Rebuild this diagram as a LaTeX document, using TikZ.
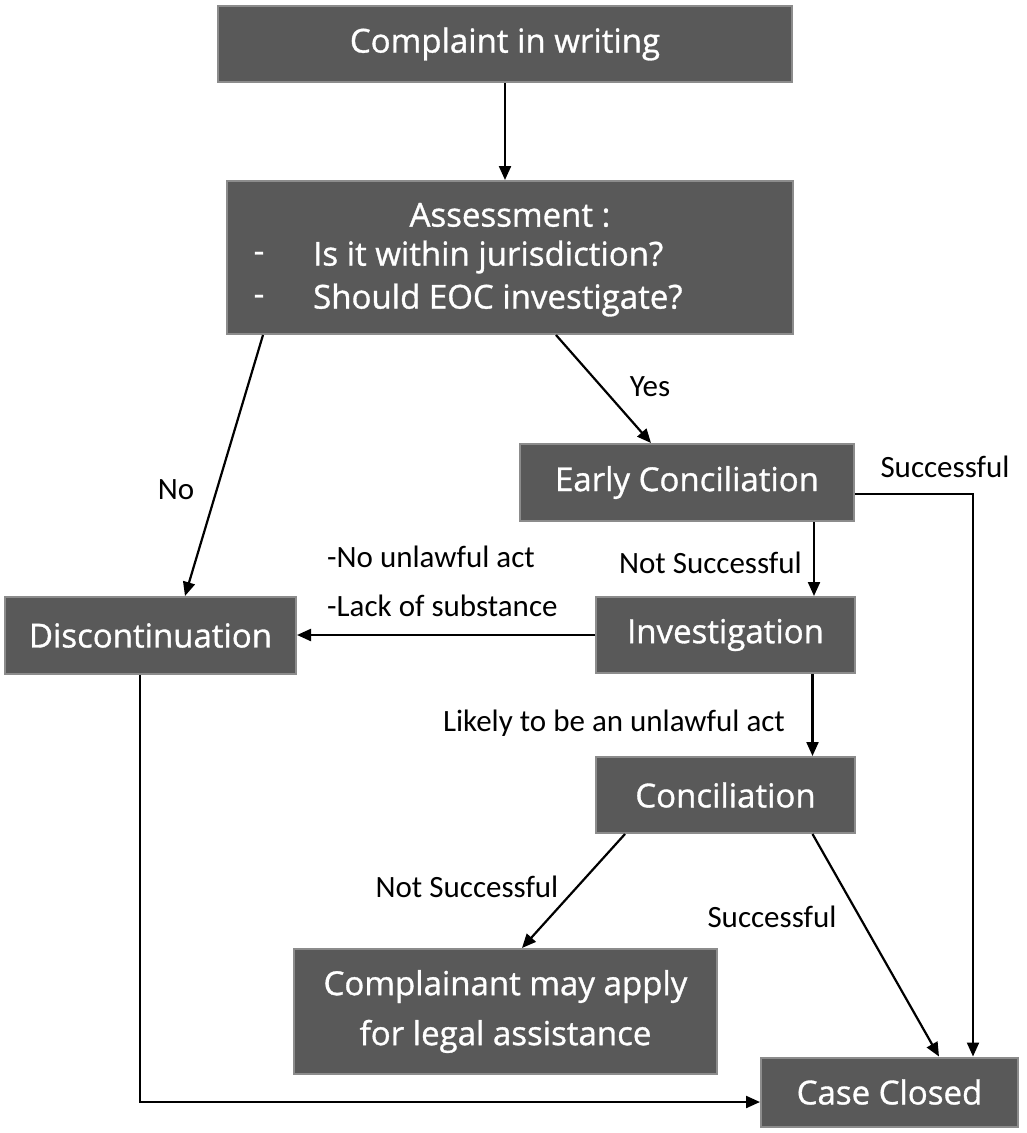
\documentclass[tikz,border=0pt]{standalone}
\usepackage{fontspec}
\setmainfont{Carlito}
\newfontfamily\boxfont{Open Sans}[FakeBold=1]
\usetikzlibrary{arrows.meta}
\definecolor{boxfill}{HTML}{595959}
\definecolor{boxline}{HTML}{8C8C8C}
\tikzset{
  box/.style={draw=boxline, line width=2pt, fill=boxfill, text=white, inner sep=0pt, align=center, font=\boxfont\fontsize{33}{50}\selectfont},
  boxtxt/.style={text=white, inner sep=0pt, font=\boxfont\fontsize{33}{50}\selectfont},
  arr/.style={line width=2.2pt, -{Triangle[length=14pt,width=12pt]}},
  lbl/.style={inner sep=0pt, font=\fontsize{31}{36}\selectfont}
}
\begin{document}
\begin{tikzpicture}[x=1pt,y=-1pt]
\useasboundingbox (0,0) rectangle (1026,1133);
% boxes
\node[box, minimum width=574pt, minimum height=76pt] (cw) at (505,44) {Complaint in writing};
\node[box, minimum width=566pt, minimum height=153pt] (as) at (510,257.5) {};
\node[boxtxt] (as1) at (510,215) {Assessment :};
\node[boxtxt] (as2) at (259,257) {-};
\node[boxtxt, anchor=west] (as3) at (313,257) {Is it within jurisdiction?};
\node[boxtxt] (as4) at (259,300) {-};
\node[boxtxt, anchor=west] (as5) at (313,300) {Should EOC investigate?};
\node[box, minimum width=334pt, minimum height=77pt] (ec) at (687,482.5) {Early Conciliation};
\node[box, minimum width=291pt, minimum height=77pt] (dis) at (150.5,635.5) {Discontinuation};
\node[box, minimum width=259pt, minimum height=76pt] (inv) at (725.5,635) {Investigation};
\node[box, minimum width=259pt, minimum height=76pt] (con) at (725.5,795) {Conciliation};
\node[box, minimum width=423pt, minimum height=125pt] (cla) at (505.5,1011.5) {Complainant may apply\\for legal assistance};
\node[box, minimum width=257pt, minimum height=69pt] (cc) at (889.5,1092) {Case Closed};
% connectors
\draw[arr] (cw.south) -- (cw.south |- as.north);
\draw[arr] ([xshift=46pt]as.south) -- ([xshift=-36pt]ec.north);
\draw[arr] ([xshift=-247pt]as.south) -- ([xshift=34.5pt]dis.north);
\draw[arr] ([xshift=127pt]ec.south) -- ([xshift=127pt]ec.south |- inv.north);
\draw[arr] ([yshift=-11.5pt]ec.east) -| ([xshift=83.5pt]cc.north);
\draw[arr] (inv.west) -- (inv.west -| dis.east);
\draw[arr] ([xshift=87pt]inv.south) -- ([xshift=87pt]inv.south |- con.north);
\draw[arr] ([xshift=-100.5pt]con.south) -- ([xshift=16.5pt]cla.north);
\draw[arr] ([xshift=87pt]con.south) -- ([xshift=49.5pt]cc.north);
\draw[arr] ([xshift=-10.5pt]dis.south) |- ([yshift=-10pt]cc.west);
% labels
\node[lbl] (lyes) at (650,387) {Yes};
\node[lbl] (lsucc1) at (945,467) {Successful};
\node[lbl] (lno) at (176,490) {No};
\node[lbl, anchor=west] (lnu) at (327,557) {-No unlawful act};
\node[lbl, anchor=west] (lls) at (327,606) {-Lack of substance};
\node[lbl, anchor=east] (lns1) at (802,563) {Not Successful};
\node[lbl] (llik) at (614,723) {Likely to be an unlawful act};
\node[lbl] (lns2) at (467,887) {Not Successful};
\node[lbl] (lsucc2) at (772,917) {Successful};
\end{tikzpicture}
\end{document}
